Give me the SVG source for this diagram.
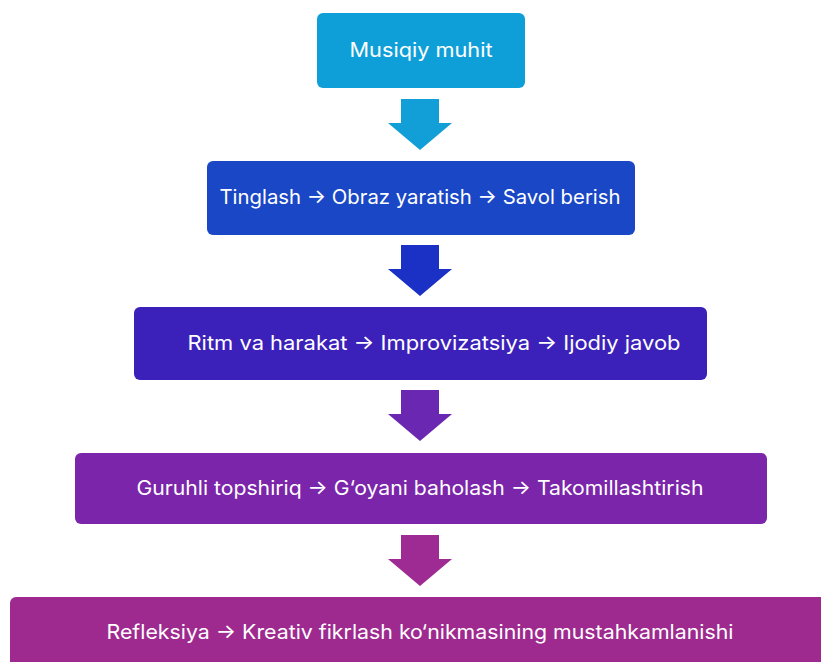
<svg xmlns="http://www.w3.org/2000/svg" width="821" height="662" viewBox="0 0 821 662">
<style>
text{font-family:Inter,"Noto Sans","Liberation Sans",sans-serif;font-size:20px;fill:#ffffff;text-anchor:middle;dominant-baseline:central}
</style>
<defs>
<path id="arr" d="M-19,0 H19 V24 H32 L0,51 L-32,24 H-19 Z"/>
</defs>
<rect width="821" height="662" fill="#ffffff"/>
<g id="connectors">
<use href="#arr" x="420" y="99" fill="#129FD7"/>
<use href="#arr" x="420" y="245" fill="#1B30C4"/>
<use href="#arr" x="420" y="390" fill="#6A27B2"/>
<use href="#arr" x="420" y="535" fill="#9D2B93"/>
</g>
<g id="n1"><rect x="317" y="13" width="208" height="75" rx="6" fill="#0F9FD8"/><text x="421" y="50" textLength="143" lengthAdjust="spacingAndGlyphs">Musiqiy muhit</text></g>
<g id="n2"><rect x="207" y="161" width="428" height="74" rx="6" fill="#1A47C6"/><text x="420" y="197" textLength="401" lengthAdjust="spacingAndGlyphs">Tinglash → Obraz yaratish → Savol berish</text></g>
<g id="n3"><rect x="134" y="307" width="573" height="73" rx="6" fill="#3B21B9"/><text x="434" y="343" textLength="493" lengthAdjust="spacingAndGlyphs">Ritm va harakat → Improvizatsiya → Ijodiy javob</text></g>
<g id="n4"><rect x="75" y="453" width="692" height="71" rx="6" fill="#7B25AA"/><text x="420" y="488" textLength="567" lengthAdjust="spacingAndGlyphs">Guruhli topshiriq → G‘oyani baholash → Takomillashtirish</text></g>
<g id="n5"><rect x="10" y="597" width="820" height="75" rx="6" fill="#9E2A8F"/><text x="420" y="632" textLength="627" lengthAdjust="spacingAndGlyphs">Refleksiya → Kreativ fikrlash ko‘nikmasining mustahkamlanishi</text></g>
</svg>
